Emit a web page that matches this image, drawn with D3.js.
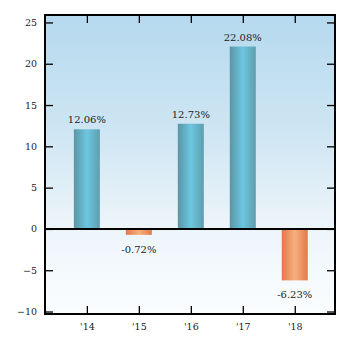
<!DOCTYPE html>
<html>
<head>
<meta charset="utf-8">
<script src="https://cdn.jsdelivr.net/npm/d3@7"></script>
<style>
html,body{margin:0;padding:0;background:#fff;}
svg{display:block;}
text{font-family:"DejaVu Serif",serif;fill:#222;}
</style>
</head>
<body>
<svg id="chart" width="350" height="347"></svg>
<script>
const categories = ["'14", "'15", "'16", "'17", "'18"];
const values = [12.06, -0.72, 12.73, 22.08, -6.23];
const labels = ["12.06%", "-0.72%", "12.73%", "22.08%", "-6.23%"];
const yTicks = [-10, -5, 0, 5, 10, 15, 20, 25];

const svg = d3.select("#chart");
const L = 45, R = 335, T = 15, B = 314;

const x = d3.scalePoint().domain(categories).range([L, R]).padding(0.79).align(0.51);
const y = d3.scaleLinear().domain([-10.3, 25.9]).range([B, T]);
const barW = 26;

const defs = svg.append("defs");
const bg = defs.append("linearGradient").attr("id","bg").attr("x1",0).attr("y1",0).attr("x2",0).attr("y2",1);
bg.append("stop").attr("offset","0%").attr("stop-color","#b5d9ee");
bg.append("stop").attr("offset","40%").attr("stop-color","#cfe6f3");
bg.append("stop").attr("offset","71%").attr("stop-color","#edf5fa");
bg.append("stop").attr("offset","100%").attr("stop-color","#fbfdff");

const gb = defs.append("linearGradient").attr("id","gblue").attr("x1",0).attr("y1",0).attr("x2",1).attr("y2",0);
gb.append("stop").attr("offset","0%").attr("stop-color","#5a95a5");
gb.append("stop").attr("offset","50%").attr("stop-color","#6cc6e0");
gb.append("stop").attr("offset","100%").attr("stop-color","#5e9eae");

const go = defs.append("linearGradient").attr("id","gorange").attr("x1",0).attr("y1",0).attr("x2",1).attr("y2",0);
go.append("stop").attr("offset","0%").attr("stop-color","#e5764a");
go.append("stop").attr("offset","50%").attr("stop-color","#f6b17e");
go.append("stop").attr("offset","100%").attr("stop-color","#e5784b");

svg.append("rect").attr("x",L).attr("y",T).attr("width",R-L).attr("height",B-T).attr("fill","url(#bg)");

// bars
svg.selectAll("rect.bar").data(values).enter().append("rect")
  .attr("class","bar")
  .attr("x",(d,i)=>x(categories[i]) - barW/2)
  .attr("width",barW)
  .attr("y",d=>d>=0 ? y(d) : y(0))
  .attr("height",d=>Math.abs(y(d)-y(0)))
  .attr("fill",d=>d>=0 ? "url(#gblue)" : "url(#gorange)");

// value labels
svg.selectAll("text.val").data(values).enter().append("text")
  .attr("class","val")
  .attr("x",(d,i)=>x(categories[i]))
  .attr("y",d=>d>=0 ? y(d)-6 : y(d)+18)
  .attr("text-anchor","middle")
  .attr("font-size","10px")
  .text((d,i)=>labels[i]);

// axes
const fmt = d => d < 0 ? "\u2212" + Math.abs(d) : String(d);
const gLeft = svg.append("g").attr("transform",`translate(${L},0)`)
  .call(d3.axisRight(y).tickValues(yTicks).tickSize(8).tickFormat(""));
const gLeftLab = svg.append("g").attr("transform",`translate(${L},0)`)
  .call(d3.axisLeft(y).tickValues(yTicks).tickSize(0).tickPadding(8).tickFormat(fmt));
const gRight = svg.append("g").attr("transform",`translate(${R},0)`)
  .call(d3.axisLeft(y).tickValues(yTicks).tickSize(8).tickFormat(""));
const gTop = svg.append("g").attr("transform",`translate(0,${T})`)
  .call(d3.axisBottom(x).tickSize(8).tickFormat(""));
const gBottom = svg.append("g").attr("transform",`translate(0,${B})`)
  .call(d3.axisTop(x).tickSize(8).tickFormat(""));
const gBottomLab = svg.append("g").attr("transform",`translate(0,${B})`)
  .call(d3.axisBottom(x).tickSize(0).tickPadding(9));

[gLeft,gLeftLab,gRight,gTop,gBottom,gBottomLab].forEach(g=>{
  g.select(".domain").remove();
  g.selectAll("line").attr("stroke","#000").attr("stroke-width",1.3);
  g.selectAll("text").attr("font-family","DejaVu Serif, serif").attr("font-size","9.5px").attr("fill","#222");
});

// zero line
svg.append("line").attr("x1",L).attr("x2",R).attr("y1",y(0)).attr("y2",y(0))
  .attr("stroke","#000").attr("stroke-width",2);
// frame
svg.append("rect").attr("x",L).attr("y",T).attr("width",R-L).attr("height",B-T)
  .attr("fill","none").attr("stroke","#000").attr("stroke-width",2);
</script>
</body>
</html>
